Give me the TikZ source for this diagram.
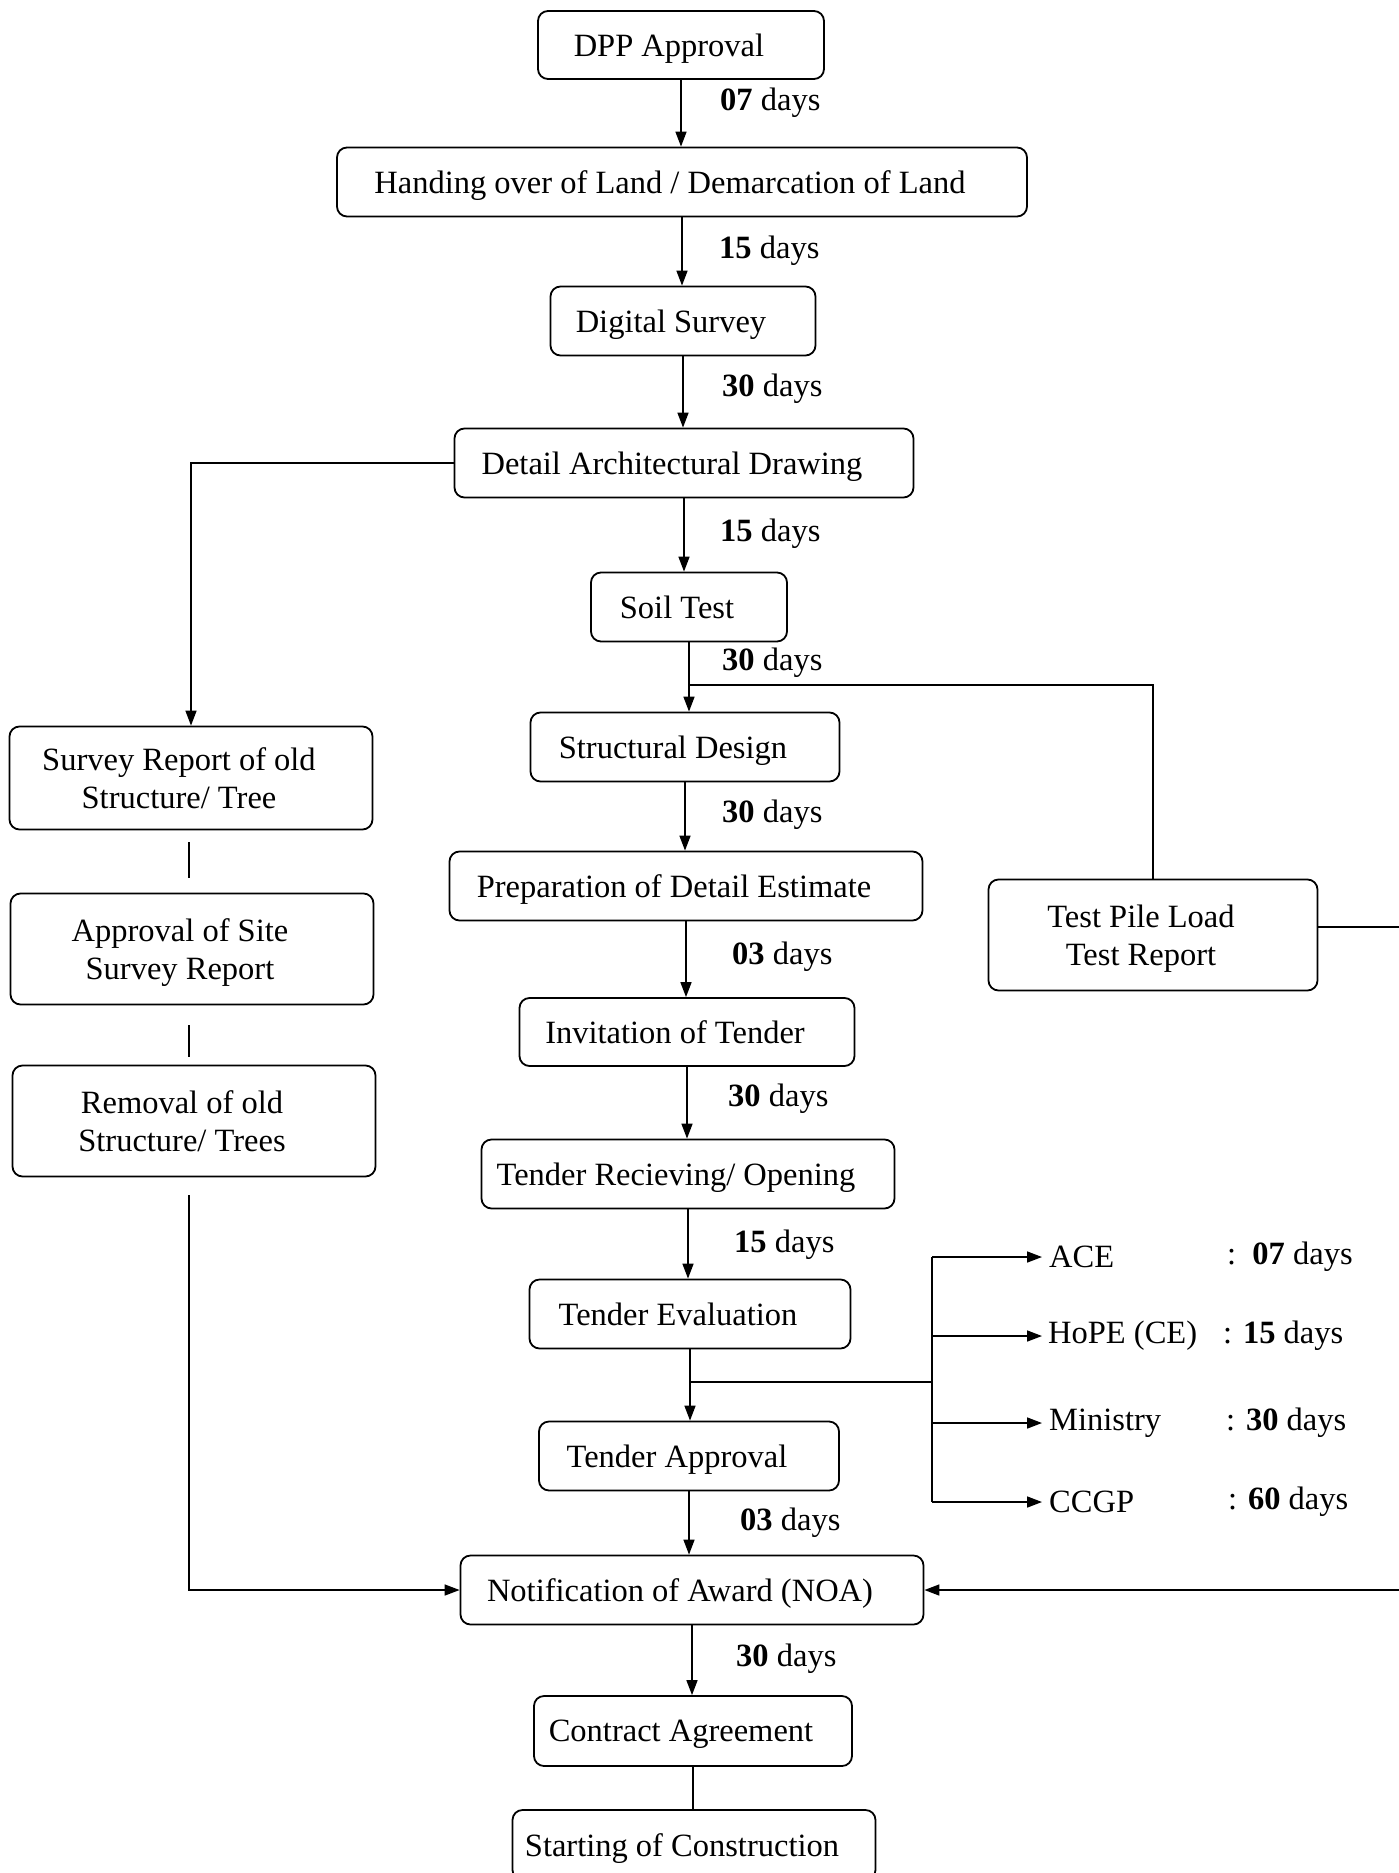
\documentclass[tikz,border=0pt]{standalone}
\usepackage{fontspec}
\setmainfont{Liberation Serif}
\usetikzlibrary{arrows.meta}
\newcommand{\tshift}{\hspace*{-24pt}}
\begin{document}
\begin{tikzpicture}[x=1pt,y=-1pt,
  box/.style={draw, line width=1.8pt, rounded corners=10pt, inner sep=0pt, text depth=0pt, align=center, font=\fontsize{32.5}{38}\selectfont},
  lab/.style={anchor=west, inner sep=0pt, font=\fontsize{32.5}{38}\selectfont},
  tag/.style={anchor=west, inner xsep=7pt, inner ysep=0pt, font=\fontsize{32.5}{38}\selectfont},
  conn/.style={line width=1.6pt},
  arr/.style={conn, -{Triangle[length=15pt,width=11pt]}},
]
\useasboundingbox (0,0) rectangle (1399,1873);

% main column
\node[box, minimum width=286pt, minimum height=68pt] (dpp) at (681,45) {\tshift DPP Approval};
\node[box, minimum width=690pt, minimum height=69pt] (hand) at (682,182) {\tshift Handing over of Land / Demarcation of Land};
\node[box, minimum width=265pt, minimum height=69pt] (dig) at (683,321) {\tshift Digital Survey};
\node[box, minimum width=459pt, minimum height=69pt] (arch) at (684,463) {\tshift Detail Architectural Drawing};
\node[box, minimum width=196pt, minimum height=69pt] (soil) at (689,607) {\tshift Soil Test};
\node[box, minimum width=309pt, minimum height=69pt] (struct) at (685,747) {\tshift Structural Design};
\node[box, minimum width=473pt, minimum height=69pt] (prep) at (686,886) {\tshift Preparation of Detail Estimate};
\node[box, minimum width=335pt, minimum height=68pt] (inv) at (687,1032) {\tshift Invitation of Tender};
\node[box, minimum width=413pt, minimum height=69pt] (rec) at (688,1174) {\tshift Tender Recieving/ Opening};
\node[box, minimum width=321pt, minimum height=69pt] (eval) at (690,1314) {\tshift Tender Evaluation};
\node[box, minimum width=300pt, minimum height=69pt] (appr) at (689,1456) {\tshift Tender Approval};
\node[box, minimum width=463pt, minimum height=69pt] (noa) at (692,1590) {\tshift Notification of Award (NOA)};
\node[box, minimum width=318pt, minimum height=70pt] (contract) at (693,1731) {\tshift Contract Agreement};
\node[box, minimum width=363pt, minimum height=70pt] (start) at (694,1845) {\tshift Starting of Construction};

% left column
\node[box, minimum width=363pt, minimum height=103pt] (survey) at (191,778) {\tshift Survey Report of old\\\tshift Structure/ Tree};
\node[box, minimum width=363pt, minimum height=111pt] (site) at (192,949) {\tshift Approval of Site\\\tshift Survey Report};
\node[box, minimum width=363pt, minimum height=111pt] (removal) at (194,1121) {\tshift Removal of old\\\tshift Structure/ Trees};

% right
\node[box, minimum width=329pt, minimum height=111pt] (pile) at (1153,935) {\tshift Test Pile Load\\\tshift Test Report};

% main arrows
\draw[arr] (dpp.south) -- (dpp.south |- hand.north);
\draw[arr] (hand.south) -- (hand.south |- dig.north);
\draw[arr] (dig.south) -- (dig.south |- arch.north);
\draw[arr] (arch.south) -- (arch.south |- soil.north);
\draw[arr] (soil.south) -- (soil.south |- struct.north);
\draw[arr] (struct.south) -- (struct.south |- prep.north);
\draw[arr] (prep.south) -- (prep.south |- inv.north);
\draw[arr] (inv.south) -- (inv.south |- rec.north);
\draw[arr] (rec.south) -- (rec.south |- eval.north);
\draw[arr] (eval.south) -- (eval.south |- appr.north);
\draw[arr] (appr.south) -- (appr.south |- noa.north);
\draw[arr] (noa.south) -- (noa.south |- contract.north);
\draw[conn] (contract.south) -- (contract.south |- start.north);

% day labels
\node[lab] (d1) at (720,103) {\textbf{07} days};
\node[lab] (d2) at (719,251) {\textbf{15} days};
\node[lab] (d3) at (722,389) {\textbf{30} days};
\node[lab] (d4) at (720,534) {\textbf{15} days};
\node[lab] (d5) at (722,663) {\textbf{30} days};
\node[lab] (d6) at (722,815) {\textbf{30} days};
\node[lab] (d7) at (732,957) {\textbf{03} days};
\node[lab] (d8) at (728,1099) {\textbf{30} days};
\node[lab] (d9) at (734,1245) {\textbf{15} days};
\node[lab] (d10) at (740,1523) {\textbf{03} days};
\node[lab] (d11) at (736,1659) {\textbf{30} days};

% left branch
\draw[arr] (arch.west) -| (survey.north);
\coordinate (g1a) at (189,842);
\coordinate (g1b) at (189,878);
\coordinate (g2a) at (189,1025);
\coordinate (g2b) at (189,1057);
\coordinate (r1) at (189,1195);
\draw[conn] (g1a) -- (g1b);
\draw[conn] (g2a) -- (g2b);
\draw[arr] (r1) |- (noa.west);

% soil test branch to pile
\coordinate (j1) at (689,685);
\draw[conn] (j1) -| (pile.north);
\coordinate (pe) at (1399,927);
\draw[conn] (pile.east |- pe) -- (pe);
\coordinate (ne) at (1399,1590);
\draw[arr] (ne) -- (noa.east);

% approval branch
\coordinate (j2) at (690,1382);
\coordinate (bt) at (932,1257);
\coordinate (bb) at (932,1502);
\draw[conn] (j2) -- (j2 -| bt);
\draw[conn] (bt) -- (bb);
\node[tag] (ace) at (1042,1257) {ACE};
\node[tag, inner xsep=6pt] (hope) at (1042,1336) {HoPE (CE)};
\node[tag] (min) at (1042,1423) {Ministry};
\node[tag] (ccgp) at (1042,1502) {CCGP};
\draw[arr] (bt) -- (ace.west);
\draw[arr] (bt |- hope.west) -- (hope.west);
\draw[arr] (bt |- min.west) -- (min.west);
\draw[arr] (bb) -- (ccgp.west);
\node[lab] (aced) at (1227,1257) {:\enspace\textbf{07} days};
\node[lab] (hoped) at (1223,1336) {: \textbf{15} days};
\node[lab] (mind) at (1226,1423) {: \textbf{30} days};
\node[lab] (ccgpd) at (1228,1502) {: \textbf{60} days};
\end{tikzpicture}
\end{document}
